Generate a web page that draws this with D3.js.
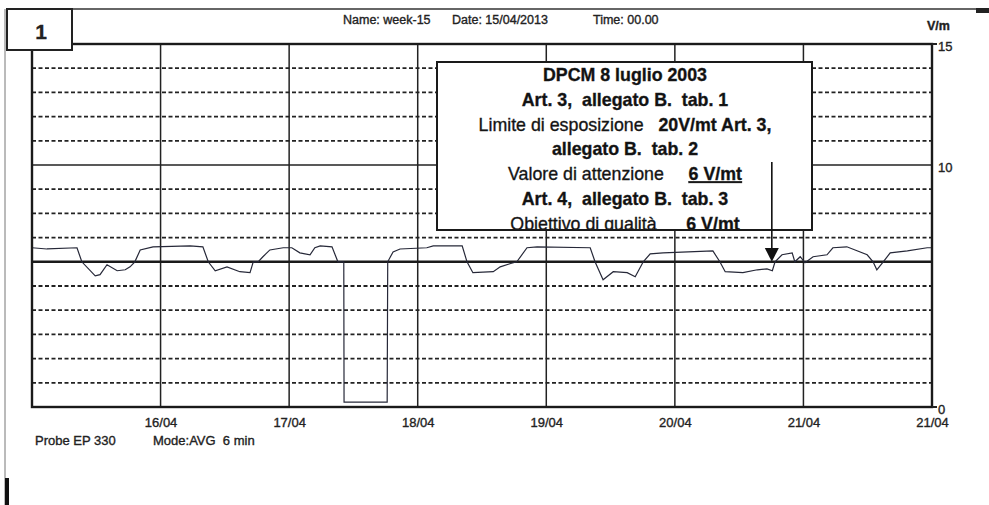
<html>
<head>
<script src="https://cdn.jsdelivr.net/npm/d3@7"></script>
<style>
  body { margin: 0; background: #fff; }
  svg { font-family: "Liberation Sans", Arial, sans-serif; }
  text { white-space: pre; stroke: #222; stroke-width: 0.35px; }
  .hdr { font-size: 12.5px; fill: #222; }
  .lbl { font-size: 13px; fill: #222; }
  .note { font-size: 17.8px; fill: #111; text-anchor: middle; }
  .b { font-weight: bold; }
</style>
</head>
<body>
<svg id="chart"></svg>
<script>
// field strength trace, hours from 15/04/2013 00:00 and V/m
var hours = [0, 2.8, 8.4, 9.3, 11.8, 12.7, 14.0, 15.9, 17.4, 18.3, 19.2, 20.2, 22.6, 29.5, 31.9,
  32.9, 34.2, 36.4, 38.8, 40.7, 41.3, 42.2, 43.1, 44.4, 46.9, 48.5, 50.0, 51.9, 52.8, 53.8, 56.0,
  57.1, 58.2, 58.25, 66.3, 66.4, 67.4, 68.7, 73.7, 74.9, 80.3, 81.2, 82.3, 86.1, 87.4, 89.2, 90.5,
  92.4, 94.3, 104.2, 105.1, 106.6, 108.5, 111.1, 112.6, 114.1, 115.4, 117.8, 127.1, 128.4, 129.4,
  132.7, 135.4, 137.2, 138.2, 138.7, 140.0, 141.9, 142.4, 143.4, 144.3, 145.8, 148.4, 149.5, 152.1,
  155.9, 157.0, 157.7, 158.9, 160.2, 163.4, 167.1, 168];
var values = [6.58, 6.53, 6.58, 6.0, 5.42, 5.47, 5.88, 5.63, 5.67, 5.79, 6.0, 6.49, 6.62, 6.66, 6.62,
  6.0, 5.63, 5.79, 5.59, 5.55, 6.0, 6.0, 6.21, 6.49, 6.58, 6.58, 6.37, 6.29, 6.58, 6.66, 6.62,
  6.0, 6.0, 0.2, 0.2, 6.0, 6.41, 6.53, 6.58, 6.66, 6.66, 6.0, 5.55, 5.59, 5.79, 5.92, 6.0,
  6.58, 6.62, 6.58, 6.0, 5.26, 5.59, 5.55, 5.38, 6.0, 6.33, 6.37, 6.45, 6.0, 5.59,
  5.55, 5.67, 5.71, 5.63, 6.0, 6.29, 6.37, 6.0, 6.21, 5.96, 6.21, 6.29, 6.58, 6.62,
  6.29, 6.0, 5.67, 6.0, 6.37, 6.45, 6.58, 6.58];

var xTickLabels = ["16/04", "17/04", "18/04", "19/04", "20/04", "21/04", "21/04"];
var yTickLabels = [0, 10, 15];
var gridLevels = d3.range(1, 15);
var solidLevels = [10];
var limitLevel = 6;
var arrowHour = 138.1;

var noteLines = [
  [{t: "DPCM 8 luglio 2003", b: true}],
  [{t: "Art. 3,  allegato B.  tab. 1", b: true}],
  [{t: "Limite di esposizione   ", b: false}, {t: "20V/mt Art. 3,", b: true}],
  [{t: "allegato B.  tab. 2", b: true}],
  [{t: "Valore di attenzione     ", b: false}, {t: "6 V/mt", b: true, u: true}],
  [{t: "Art. 4,  allegato B.  tab. 3", b: true}],
  [{t: "Obiettivo di qualità      ", b: false}, {t: "6 V/mt", b: true, u: true}]
];

var W = 989, H = 505;
var svg = d3.select("#chart").attr("width", W).attr("height", H);

var start = new Date(2013, 3, 15, 0, 0);
var x = d3.scaleTime().domain([start, d3.timeDay.offset(start, 7)]).range([32, 932]);
var y = d3.scaleLinear().domain([0, 15]).range([407, 44]);
var data = hours.map(function (h, i) { return {d: d3.timeMinute.offset(start, Math.round(h * 60)), v: values[i]}; });

// page frame
svg.append("line").attr("x1", 7).attr("x2", 985).attr("y1", 9).attr("y2", 9)
   .attr("stroke", "#333").attr("stroke-width", 1.5);
svg.append("rect").attr("x", 976).attr("y", 8).attr("width", 13).attr("height", 5).attr("fill", "#222");
svg.append("line").attr("x1", 5).attr("x2", 5).attr("y1", 9).attr("y2", 505)
   .attr("stroke", "#777").attr("stroke-width", 1);
svg.append("rect").attr("x", 5).attr("y", 478).attr("width", 4).attr("height", 27).attr("fill", "#111");

// horizontal grid
var levels = gridLevels.filter(function (v) { return solidLevels.indexOf(v) < 0 && v !== limitLevel; });
svg.append("g").selectAll("line").data(levels).join("line")
   .attr("x1", x.range()[0]).attr("x2", x.range()[1])
   .attr("y1", function (d) { return y(d); }).attr("y2", function (d) { return y(d); })
   .attr("stroke", "#222").attr("stroke-width", 1.8).attr("stroke-dasharray", "4,2.5");
svg.append("g").selectAll("line").data(solidLevels).join("line")
   .attr("x1", x.range()[0]).attr("x2", x.range()[1])
   .attr("y1", function (d) { return y(d); }).attr("y2", function (d) { return y(d); })
   .attr("stroke", "#222").attr("stroke-width", 1.4);

// vertical day lines
var days = d3.timeDay.range(d3.timeDay.offset(start, 1), d3.timeDay.offset(start, 7));
svg.append("g").selectAll("line").data(days).join("line")
   .attr("x1", function (d) { return x(d); }).attr("x2", function (d) { return x(d); })
   .attr("y1", y(15)).attr("y2", y(0))
   .attr("stroke", "#222").attr("stroke-width", 1.5);

// 6 V/m line
svg.append("line").attr("x1", x.range()[0]).attr("x2", x.range()[1])
   .attr("y1", y(limitLevel)).attr("y2", y(limitLevel))
   .attr("stroke", "#1a1a1a").attr("stroke-width", 2.6);

// trace
svg.append("path").datum(data)
   .attr("fill", "none").attr("stroke", "#262838").attr("stroke-width", 1.2)
   .attr("d", d3.line().x(function (d) { return x(d.d); }).y(function (d) { return y(d.v); }));

// plot border
svg.append("rect").attr("x", x.range()[0]).attr("y", y(15))
   .attr("width", x.range()[1] - x.range()[0]).attr("height", y(0) - y(15))
   .attr("fill", "none").attr("stroke", "#1a1a1a").attr("stroke-width", 2.4);
svg.append("line").attr("x1", 932).attr("x2", 937).attr("y1", y(0)).attr("y2", y(0)).attr("stroke", "#222").attr("stroke-width", 2);
svg.append("line").attr("x1", 932).attr("x2", 937).attr("y1", y(15)).attr("y2", y(15)).attr("stroke", "#222").attr("stroke-width", 2);

// "1" box
svg.append("rect").attr("x", 7).attr("y", 9).attr("width", 65).attr("height", 41)
   .attr("fill", "#fff").attr("stroke", "#222").attr("stroke-width", 2);
svg.append("text").attr("x", 41).attr("y", 39).attr("text-anchor", "middle")
   .attr("font-size", 21).attr("font-weight", "bold").attr("fill", "#222").text("1");

// header
svg.append("text").attr("class", "hdr").attr("x", 343).attr("y", 24).text("Name: week-15");
svg.append("text").attr("class", "hdr").attr("x", 452).attr("y", 24).text("Date: 15/04/2013");
svg.append("text").attr("class", "hdr").attr("x", 593).attr("y", 24).text("Time: 00.00");
svg.append("text").attr("class", "hdr b").attr("x", 927).attr("y", 30).text("V/m");

// y labels (right)
svg.append("g").selectAll("text").data(yTickLabels).join("text")
   .attr("class", "lbl").attr("x", 938).attr("y", function (d) { return y(d) + 7; })
   .attr("font-size", 12).text(function (d) { return d; });

// x labels
var xAxis = d3.axisBottom(x)
   .tickValues(d3.timeDay.range(d3.timeDay.offset(start, 1), d3.timeDay.offset(start, 8)))
   .tickSize(0).tickPadding(11)
   .tickFormat(function (d, i) { return xTickLabels[i]; });
var gx = svg.append("g").attr("transform", "translate(0," + y(0) + ")").call(xAxis);
gx.select(".domain").remove();
gx.selectAll("text").attr("class", "lbl").attr("font-size", null).attr("font-family", null).attr("fill", null);

svg.append("text").attr("class", "lbl").attr("x", 35).attr("y", 445).text("Probe EP 330");
svg.append("text").attr("class", "lbl").attr("x", 153).attr("y", 445).text("Mode:AVG  6 min");

// note box
var bx = 437, by = 62, bw = 375, bh = 168;
svg.append("clipPath").attr("id", "noteclip").append("rect")
   .attr("x", bx).attr("y", by).attr("width", bw).attr("height", bh);
svg.append("rect").attr("x", bx).attr("y", by).attr("width", bw).attr("height", bh)
   .attr("fill", "#fff").attr("stroke", "none");
var note = svg.append("g").attr("clip-path", "url(#noteclip)");
noteLines.forEach(function (parts, i) {
  var t = note.append("text").attr("class", "note").attr("x", 625).attr("y", 81 + i * 24.8);
  parts.forEach(function (p) {
    t.append("tspan").attr("font-weight", p.b ? "bold" : "normal")
     .attr("text-decoration", p.u ? "underline" : null).text(p.t);
  });
});
svg.append("rect").attr("x", bx).attr("y", by).attr("width", bw).attr("height", bh)
   .attr("fill", "none").attr("stroke", "#1a1a1a").attr("stroke-width", 2);

// arrow to the trace
var ax = x(d3.timeMinute.offset(start, Math.round(arrowHour * 60)));
svg.append("line").attr("x1", ax).attr("x2", ax).attr("y1", 162).attr("y2", 250)
   .attr("stroke", "#111").attr("stroke-width", 1.6);
svg.append("path")
   .attr("d", "M" + (ax - 7) + "," + 248 + "L" + (ax + 7) + "," + 248 + "L" + ax + "," + y(limitLevel) + "Z")
   .attr("fill", "#111");
</script>
</body>
</html>
